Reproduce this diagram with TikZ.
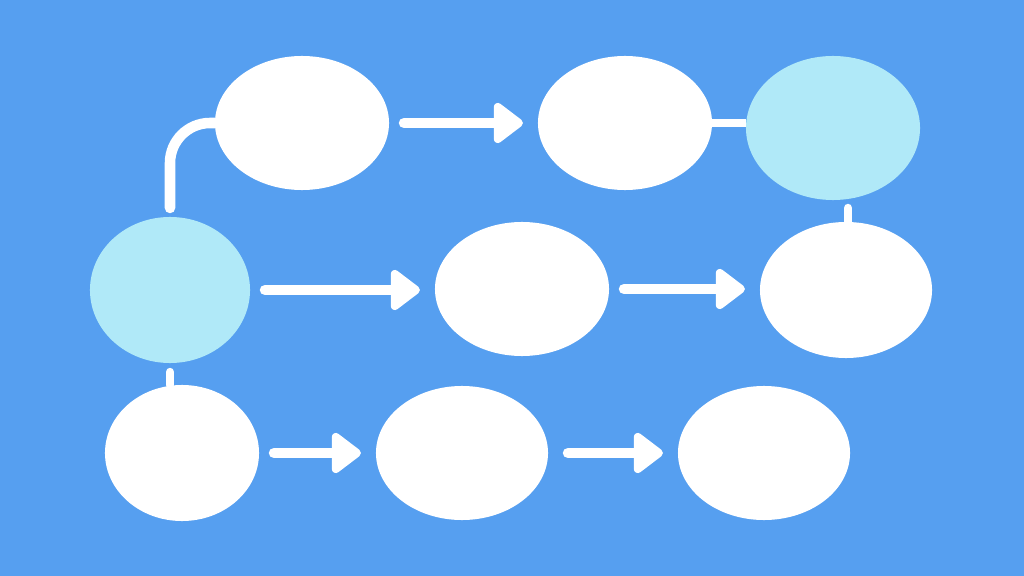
\documentclass[tikz,border=0pt]{standalone}
\usetikzlibrary{shapes.geometric,arrows.meta,calc}
\definecolor{bgblue}{RGB}{86,159,240}
\definecolor{paleblue}{RGB}{176,233,248}
\begin{document}
\begin{tikzpicture}[x=0.025cm,y=-0.025cm,
	blob/.style={ellipse,fill=white,inner sep=0,outer sep=0,minimum width=#1*0.05cm},
	blob/.default=87,
	arr/.style={white,line width=7.5pt,line cap=round,shorten <=0.375cm,shorten >=0.375cm,
		-{Triangle[length=0.8cm,width=1.15cm,round]}},
	link/.style={white,line width=7.5pt,line cap=round},
	tick/.style={white,line width=6pt,line cap=round}]
		\fill [bgblue] (0,0) rectangle (1024,576);
		% top row
		\node [blob,minimum height=3.35cm] (a1) at (302,123) {};
		\node [blob,minimum height=3.35cm] (a2) at (625,123) {};
		\node [blob,fill=paleblue,minimum height=3.6cm] (a3) at (833,128) {};
		% middle row
		\node [blob=80,fill=paleblue,minimum height=3.65cm] (b1) at (170,290) {};
		\node [blob,minimum height=3.35cm] (b2) at (522,289) {};
		\node [blob=86,minimum height=3.4cm] (b3) at (846,290) {};
		% bottom row
		\node [blob=77,minimum height=3.4cm] (c1) at (182,453) {};
		\node [blob=86,minimum height=3.35cm] (c2) at (462,453) {};
		\node [blob=86,minimum height=3.35cm] (c3) at (764,453) {};
		% connectors
		\draw [link,rounded corners=1cm,shorten <=0.225cm] (b1.north) |- (a1.west);
		\draw [arr] (a1.east) -- (a2.west);
		\draw [link,line width=6pt,line cap=butt] (a2.east) -- (a2.east -| a3.west);
		\draw [arr] (b1.east) -- (b1.east -| b2.west);
		\draw [arr] (b2.east) -- (b2.east -| b3.west);
		\draw [arr] (c1.east) -- (c2.west);
		\draw [arr,shorten <=0.5cm] (c2.east) -- (c3.west);
		\coordinate (t1) at ($(b3.north)+(2,-14)$);
		\draw [tick] (b3.north -| t1) -- (t1);
		\draw [tick,shorten <=0.225cm] (b1.south) -- (b1.south |- c1.north);
\end{tikzpicture}
\end{document}
